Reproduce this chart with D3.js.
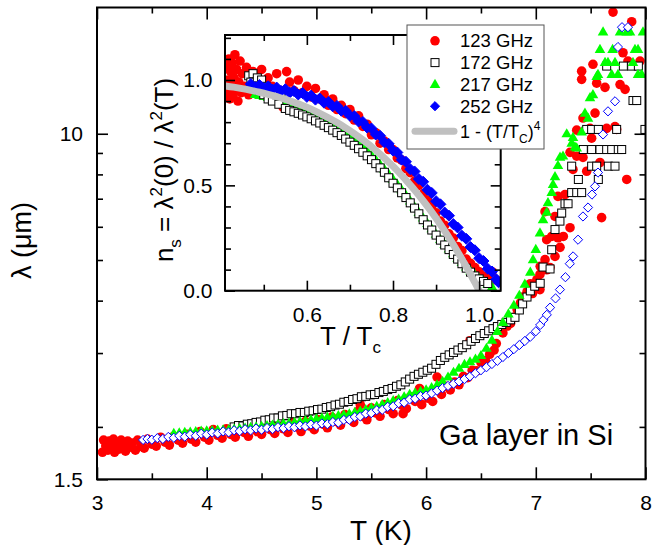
<!DOCTYPE html>
<html><head><meta charset="utf-8">
<script src="https://cdn.jsdelivr.net/npm/d3@7"></script>
<style>body{margin:0;background:#fff}svg{display:block}</style>
</head><body><svg id="c" width="664" height="545"></svg>
<script>
// ---------- labels & ticks ----------
const seriesNames = ["123 GHz","172 GHz","217 GHz","252 GHz"];
const xTicksMain = [3,4,5,6,7,8];
const xMinorMain = [3.5,4.5,5.5,6.5,7.5];
const yLabelTicksMain = [1.5,10];
const yMinorMain = [2,3,4,5,6,7,8,9];
const xTicksInset = [0.6,0.8,1.0];
const xMinorInset = [0.5,0.7,0.9];
const yTicksInset = [0.0,0.5,1.0];
const yMinorInset = [0.1,0.2,0.3,0.4,0.6,0.7,0.8,0.9,1.1,1.2];

// ---------- main panel: [T (K), lambda (um)] ----------
const main123 = [[3.05,1.74],[3.06,1.86],[3.08,1.80],[3.10,1.76],[3.11,1.85],[3.13,1.79],[3.15,1.87],[3.16,1.74],[3.18,1.82],[3.20,1.77],[3.22,1.86],[3.24,1.80],[3.26,1.75],[3.28,1.85],[3.30,1.79],[3.32,1.83],[3.35,1.76],[3.37,1.86],[3.40,1.80],[3.43,1.78],[3.46,1.87],[3.50,1.82],[3.54,1.80],[3.58,1.89],[3.62,1.84],[3.66,1.81],[3.70,1.90],[3.74,1.86],[3.78,1.83],[3.82,1.92],[3.86,1.87],[3.90,1.84],[3.94,1.95],[3.98,1.89],[4.02,1.86],[4.06,1.97],[4.10,1.91],[4.14,1.88],[4.18,1.98],[4.22,1.92],[4.26,1.89],[4.30,2.00],[4.34,1.94],[4.38,1.90],[4.42,2.01],[4.46,1.95],[4.50,1.92],[4.54,2.02],[4.58,1.97],[4.62,1.93],[4.66,2.03],[4.70,1.98],[4.74,1.94],[4.78,2.05],[4.82,2.00],[4.86,1.95],[4.90,2.06],[4.94,2.01],[4.98,1.97],[5.02,2.08],[5.06,2.03],[5.10,1.99],[5.14,2.11],[5.18,2.06],[5.22,2.02],[5.26,2.14],[5.30,2.09],[5.34,2.05],[5.38,2.18],[5.40,2.26],[5.42,2.12],[5.46,2.08],[5.50,2.22],[5.54,2.16],[5.58,2.12],[5.62,2.26],[5.66,2.20],[5.70,2.15],[5.74,2.31],[5.78,2.25],[5.79,2.15],[5.82,2.21],[5.86,2.36],[5.90,2.30],[5.94,2.47],[5.96,2.26],[5.98,2.40],[6.02,2.34],[6.06,2.30],[6.10,2.63],[6.11,2.45],[6.14,2.39],[6.18,2.50],[6.22,2.45],[6.26,2.56],[6.30,2.52],[6.34,2.64],[6.38,2.62],[6.40,3.21],[6.42,2.73],[6.46,2.72],[6.50,2.85],[6.54,2.88],[6.58,2.98],[6.62,3.05],[6.64,3.16],[6.70,3.35],[6.74,3.48],[6.77,3.53],[6.80,3.65],[6.83,3.81],[6.86,3.95],[6.88,4.08],[6.92,4.20],[6.95,4.39],[6.97,4.16],[7.01,4.49],[7.04,4.83],[7.10,4.74],[7.038,4.25],[7.038,4.62],[7.084,5.01],[7.129,4.80],[7.175,5.10],[7.202,5.65],[7.084,6.52],[7.175,6.35],[7.099,5.59],[7.145,5.69],[7.251,5.69],[7.221,5.36],[7.312,5.97],[7.202,7.09],[7.266,7.16],[7.339,8.22],[7.585,8.54],[7.829,7.78],[7.60,6.31],[7.464,8.14],[7.373,8.84],[7.43,8.78],[7.312,9.03],[7.509,9.76],[7.494,10.3],[7.43,10.9],[7.373,10.2],[7.646,10.3],[7.722,10.4],[7.737,10.24],[7.54,11.2],[7.555,13.2],[7.631,12.9],[7.768,13.1],[7.814,12.76],[7.418,13.48],[7.418,14.1],[7.521,14.64],[7.795,15.6],[7.84,14.9],[7.95,14.9],[7.704,19.5],[7.874,18.5]];

const main172 = [[4.25,2.00],[4.29,2.015],[4.33,2.01],[4.37,2.03],[4.41,2.035],[4.45,2.05],[4.49,2.055],[4.53,2.075],[4.57,2.08],[4.61,2.10],[4.65,2.10],[4.69,2.125],[4.73,2.13],[4.77,2.15],[4.81,2.15],[4.85,2.165],[4.89,2.165],[4.93,2.18],[4.97,2.185],[5.01,2.20],[5.05,2.205],[5.09,2.225],[5.13,2.235],[5.17,2.255],[5.21,2.265],[5.25,2.29],[5.29,2.30],[5.33,2.325],[5.37,2.335],[5.41,2.36],[5.45,2.365],[5.49,2.385],[5.53,2.39],[5.57,2.415],[5.61,2.43],[5.65,2.455],[5.69,2.47],[5.73,2.50],[5.77,2.52],[5.81,2.56],[5.85,2.60],[5.89,2.64],[5.93,2.67],[5.97,2.70],[6.01,2.73],[6.05,2.76],[6.09,2.82],[6.13,2.88],[6.17,2.93],[6.21,2.97],[6.25,3.01],[6.29,3.05],[6.33,3.09],[6.37,3.14],[6.41,3.20],[6.45,3.25],[6.49,3.30],[6.53,3.34],[6.57,3.39],[6.61,3.43],[6.65,3.47],[6.69,3.51],[6.73,3.55],[6.77,3.60],[6.81,3.65],[6.85,3.80],[6.88,3.93],[6.92,4.08],[6.95,4.22],[6.99,4.33],[7.04,4.40],[7.066,4.81],[7.13,4.76],[7.145,5.29],[7.175,5.91],[7.22,6.19],[7.236,6.47],[7.266,6.81],[7.294,6.81],[7.327,7.24],[7.373,7.24],[7.418,7.24],[7.388,7.78],[7.327,8.37],[7.509,8.37],[7.555,8.37],[7.57,7.78],[7.661,8.37],[7.722,8.37],[7.433,9.17],[7.509,9.17],[7.585,9.17],[7.646,9.17],[7.692,9.17],[7.752,9.17],[7.783,9.17],[7.464,10.24],[7.509,10.24],[7.57,10.24],[7.737,10.24],[7.995,10.24],[7.886,12.0],[7.92,12.0],[7.646,14.5],[7.798,14.5],[7.874,14.5],[7.935,14.5]];

const main217 = [[3.70,1.930],[3.75,1.935],[3.80,1.940],[3.85,1.945],[3.90,1.950],[3.95,1.955],[4.00,1.958],[4.05,1.961],[4.10,1.964],[4.15,1.967],[4.20,1.970],[4.25,1.976],[4.30,1.982],[4.35,1.988],[4.40,1.994],[4.45,2.000],[4.50,2.007],[4.55,2.014],[4.60,2.021],[4.65,2.028],[4.70,2.036],[4.75,2.043],[4.80,2.050],[4.85,2.060],[4.90,2.070],[4.95,2.080],[5.00,2.090],[5.05,2.100],[5.10,2.110],[5.15,2.120],[5.20,2.128],[5.25,2.138],[5.30,2.150],[5.35,2.165],[5.40,2.180],[5.45,2.200],[5.50,2.220],[5.55,2.240],[5.60,2.260],[5.65,2.285],[5.70,2.310],[5.75,2.330],[5.80,2.360],[5.85,2.390],[5.90,2.410],[5.95,2.430],[6.00,2.450],[6.05,2.480],[6.10,2.520],[6.15,2.570],[6.20,2.630],[6.25,2.700],[6.30,2.760],[6.35,2.820],[6.40,2.860],[6.45,2.900],[6.50,2.960],[6.55,3.080],[6.60,3.220],[6.65,3.380],[6.70,3.550],[6.75,3.720],[6.80,3.900],[6.85,4.120],[6.90,4.380],[6.95,4.680],[6.975,5.01],[7.00,5.30],[7.038,5.80],[7.066,6.24],[7.10,6.50],[7.111,6.85],[7.145,7.25],[7.157,7.57],[7.175,7.90],[7.202,8.40],[7.221,8.80],[7.248,8.85],[7.282,10.0],[7.327,9.5],[7.339,9.8],[7.357,9.3],[7.373,9.25],[7.418,10.1],[7.448,11.2],[7.476,10.9],[7.494,12.2],[7.521,12.4],[7.555,13.7],[7.567,13.86],[7.585,15.9],[7.613,17.5],[7.631,14.8],[7.658,14.8],[7.692,13.86],[7.70,15.9],[7.722,14.8],[7.749,13.86],[7.768,17.5],[7.829,17.5],[7.859,17.5],[7.886,14.8],[7.904,15.9],[7.932,15.9],[7.932,13.86],[7.965,13.86],[7.977,17.5]];

const main252 = [[3.42,1.862],[3.46,1.872],[3.50,1.864],[3.55,1.880],[3.60,1.872],[3.65,1.893],[3.70,1.884],[3.75,1.904],[3.80,1.895],[3.85,1.916],[3.90,1.905],[3.95,1.927],[4.00,1.917],[4.05,1.939],[4.10,1.929],[4.15,1.951],[4.20,1.941],[4.25,1.963],[4.30,1.953],[4.35,1.974],[4.40,1.962],[4.45,1.982],[4.50,1.969],[4.55,1.988],[4.60,1.976],[4.65,1.997],[4.70,1.986],[4.75,2.007],[4.80,1.996],[4.85,2.016],[4.90,2.005],[4.95,2.026],[5.00,2.014],[5.05,2.038],[5.10,2.030],[5.15,2.054],[5.20,2.047],[5.25,2.078],[5.30,2.080],[5.35,2.112],[5.40,2.118],[5.45,2.151],[5.50,2.157],[5.55,2.192],[5.60,2.196],[5.65,2.233],[5.70,2.240],[5.75,2.278],[5.80,2.285],[5.85,2.326],[5.90,2.334],[5.95,2.368],[6.00,2.375],[6.05,2.405],[6.10,2.440],[6.15,2.475],[6.20,2.505],[6.25,2.535],[6.30,2.567],[6.35,2.600],[6.40,2.640],[6.45,2.685],[6.50,2.730],[6.55,2.775],[6.60,2.825],[6.65,2.875],[6.70,2.935],[6.75,3.000],[6.80,3.065],[6.85,3.135],[6.90,3.205],[6.95,3.281],[7.00,3.38],[7.04,3.50],[7.07,3.60],[7.10,3.70],[7.13,3.85],[7.18,4.05],[7.22,4.25],[7.27,4.55],[7.31,4.90],[7.34,5.10],[7.385,5.59],[7.43,6.35],[7.476,6.67],[7.512,7.16],[7.54,7.49],[7.567,8.08],[7.613,9.96],[7.658,11.31],[7.722,11.95],[7.749,16.1],[7.786,17.95],[7.84,17.95]];

// ---------- inset: [T/Tc, ns] ----------
const inset123 = [[0.413,1.06],[0.415,0.94],[0.417,1.00],[0.419,1.10],[0.421,0.91],[0.423,1.04],[0.425,0.97],[0.427,1.08],[0.429,0.93],[0.431,1.01],[0.433,1.12],[0.435,0.95],[0.437,1.05],[0.44,0.90],[0.442,0.99],[0.445,1.09],[0.448,0.94],[0.45,1.03],[0.455,0.97],[0.46,1.06],[0.465,0.93],[0.47,1.01],[0.475,1.04],[0.48,0.96],[0.485,1.02],[0.49,0.99],[0.495,1.05],[0.50,0.95],[0.51,1.01],[0.52,0.97],[0.53,1.03],[0.54,0.95],[0.545,0.87],[0.553,1.04],[0.56,0.99],[0.57,0.95],[0.58,1.00],[0.59,0.94],[0.60,0.97],[0.61,0.92],[0.62,0.96],[0.63,0.91],[0.64,0.93],[0.65,0.88],[0.66,0.91],[0.67,0.86],[0.68,0.88],[0.69,0.84],[0.70,0.86],[0.71,0.81],[0.72,0.83],[0.73,0.78],[0.74,0.79],[0.75,0.74],[0.76,0.75],[0.77,0.70],[0.78,0.71],[0.79,0.67],[0.80,0.67],[0.81,0.63],[0.82,0.62],[0.83,0.58],[0.84,0.56],[0.85,0.52],[0.86,0.50],[0.87,0.46],[0.88,0.43],[0.89,0.40],[0.90,0.37],[0.91,0.33],[0.92,0.31],[0.93,0.27],[0.94,0.25],[0.95,0.21],[0.96,0.19],[0.97,0.15],[0.98,0.13],[0.99,0.11],[1.00,0.09],[1.01,0.07],[1.02,0.06],[1.03,0.09],[1.04,0.05]];

const inset172 = [[0.465,1.02],[0.47,0.99],[0.475,1.03],[0.48,0.97],[0.485,1.01],[0.49,0.95],[0.495,1.00],[0.50,0.93],[0.505,0.97],[0.51,0.91],[0.515,0.95],[0.52,0.90],[0.53,0.93],[0.535,0.885],[0.54,0.94],[0.55,0.865],[0.56,0.856],[0.57,0.849],[0.58,0.842],[0.59,0.834],[0.60,0.825],[0.61,0.816],[0.62,0.806],[0.63,0.796],[0.64,0.785],[0.65,0.774],[0.66,0.762],[0.67,0.75],[0.68,0.737],[0.69,0.72],[0.70,0.705],[0.71,0.69],[0.72,0.674],[0.73,0.657],[0.74,0.64],[0.75,0.622],[0.76,0.603],[0.77,0.583],[0.78,0.562],[0.79,0.536],[0.80,0.51],[0.81,0.488],[0.82,0.465],[0.83,0.442],[0.84,0.417],[0.85,0.392],[0.86,0.365],[0.87,0.337],[0.88,0.312],[0.89,0.288],[0.90,0.264],[0.91,0.24],[0.92,0.217],[0.93,0.195],[0.94,0.172],[0.95,0.15],[0.96,0.128],[0.97,0.107],[0.98,0.088],[0.99,0.07],[1.00,0.056],[1.01,0.044],[1.02,0.034]];

const inset217 = [[0.48,0.932],[0.49,0.927],[0.50,0.922],[0.51,0.917],[0.52,0.912],[0.53,0.906],[0.54,0.900],[0.55,0.893],[0.56,0.887],[0.57,0.879],[0.58,0.872],[0.59,0.864],[0.60,0.855],[0.61,0.846],[0.62,0.837],[0.63,0.827],[0.64,0.817],[0.65,0.806],[0.66,0.795],[0.67,0.783],[0.68,0.770],[0.69,0.757],[0.70,0.743],[0.71,0.725],[0.72,0.706],[0.73,0.686],[0.74,0.665],[0.75,0.644],[0.76,0.622],[0.77,0.600],[0.78,0.577],[0.79,0.553],[0.80,0.530],[0.81,0.505],[0.82,0.480],[0.83,0.453],[0.84,0.426],[0.85,0.398],[0.86,0.372],[0.87,0.345],[0.88,0.32],[0.89,0.294],[0.90,0.268],[0.91,0.243],[0.92,0.22],[0.93,0.198],[0.94,0.176],[0.95,0.155],[0.96,0.134],[0.97,0.113],[0.98,0.094],[0.99,0.076],[1.00,0.06],[1.01,0.045],[1.02,0.03],[1.03,0.018]];

const inset252 = [[0.47,0.981],[0.48,0.966],[0.49,0.976],[0.50,0.961],[0.51,0.970],[0.52,0.955],[0.53,0.964],[0.54,0.948],[0.55,0.956],[0.56,0.940],[0.57,0.948],[0.58,0.931],[0.59,0.938],[0.60,0.920],[0.61,0.926],[0.62,0.907],[0.63,0.912],[0.64,0.892],[0.65,0.896],[0.66,0.875],[0.67,0.877],[0.68,0.854],[0.69,0.854],[0.70,0.830],[0.71,0.829],[0.72,0.803],[0.73,0.801],[0.74,0.774],[0.75,0.770],[0.76,0.741],[0.77,0.735],[0.78,0.704],[0.79,0.697],[0.80,0.665],[0.81,0.656],[0.82,0.622],[0.83,0.612],[0.84,0.577],[0.85,0.566],[0.86,0.530],[0.87,0.517],[0.88,0.479],[0.89,0.464],[0.90,0.425],[0.91,0.410],[0.92,0.371],[0.93,0.356],[0.94,0.316],[0.95,0.300],[0.96,0.261],[0.97,0.246],[0.98,0.207],[0.99,0.192],[1.00,0.154],[1.01,0.141],[1.02,0.104],[1.03,0.091],[1.04,0.054],[1.045,0.04]];

const fitCurve = [[0.41,0.972],[0.43,0.966],[0.45,0.959],[0.47,0.951],[0.49,0.942],[0.51,0.932],[0.53,0.921],[0.55,0.908],[0.57,0.894],[0.59,0.879],[0.61,0.862],[0.63,0.842],[0.65,0.821],[0.67,0.798],[0.69,0.773],[0.71,0.746],[0.73,0.716],[0.75,0.684],[0.77,0.648],[0.79,0.610],[0.81,0.570],[0.83,0.525],[0.85,0.478],[0.87,0.427],[0.89,0.373],[0.91,0.314],[0.93,0.252],[0.95,0.185],[0.97,0.115],[0.99,0.039],[1.00,0.0]];

// ---------- drawing ----------
const FONT = "'Liberation Sans', Arial, Helvetica, sans-serif";
const svg = d3.select("#c").attr("font-family", FONT);
svg.append("rect").attr("width",664).attr("height",545).attr("fill","#fff");

const x = d3.scaleLinear().domain([3,8]).range([97,645.5]);
const y = d3.scaleLog().domain([1.5,20]).range([479.3,7.5]);
const ix = d3.scaleLinear().domain([0.41,1.05]).range([225,500.7]);
const iy = d3.scaleLinear().domain([0,1.2136]).range([290.7,35]);

const RED="#ff0000", GREEN="#00ff00", BLUE="#0000ff";
const triPath = "M0,-5.6L5.3,3.6L-5.3,3.6Z";
const diaPath = r => `M0,${-r}L${r},0L0,${r}L${-r},0Z`;

const defs = svg.append("defs");
defs.append("clipPath").attr("id","clipMain").append("rect")
  .attr("x",x.range()[0]).attr("y",y.range()[1]).attr("width",x.range()[1]-x.range()[0]).attr("height",y.range()[0]-y.range()[1]);
defs.append("clipPath").attr("id","clipInset").append("rect")
  .attr("x",ix.range()[0]).attr("y",iy.range()[1]).attr("width",ix.range()[1]-ix.range()[0]).attr("height",iy.range()[0]-iy.range()[1]);

function drawCircles(g,data,sx,sy){
  g.append("g").selectAll("circle").data(data).join("circle")
    .attr("cx",d=>sx(d[0])).attr("cy",d=>sy(d[1])).attr("r",4.8).attr("fill",RED);
}
function drawSquares(g,data,sx,sy){
  g.append("g").selectAll("rect").data(data).join("rect")
    .attr("x",d=>sx(d[0])-4).attr("y",d=>sy(d[1])-4).attr("width",8).attr("height",8)
    .attr("fill","#fff").attr("stroke","#000").attr("stroke-width",1);
}
function drawTriangles(g,data,sx,sy){
  g.append("g").selectAll("path").data(data).join("path")
    .attr("d",triPath).attr("transform",d=>`translate(${sx(d[0])},${sy(d[1])})`).attr("fill",GREEN);
}
function drawDiamonds(g,data,sx,sy,filled,r){
  g.append("g").selectAll("path").data(data).join("path")
    .attr("d",diaPath(r)).attr("transform",d=>`translate(${sx(d[0])},${sy(d[1])})`)
    .attr("fill",filled?BLUE:"#fff").attr("stroke",BLUE).attr("stroke-width",1);
}

// main data
const gm = svg.append("g").attr("clip-path","url(#clipMain)");
drawCircles(gm,main123,x,y);
drawSquares(gm,main172,x,y);
drawTriangles(gm,main217,x,y);
drawDiamonds(gm,main252,x,y,false,4.6);

function styleAxis(a,fs){
  a.select(".domain").remove();
  a.attr("font-family",FONT).attr("font-size",fs);
  a.selectAll("line").attr("stroke","#000").attr("stroke-width",1.6);
  a.selectAll("text").attr("fill","#000");
}
function addAxis(gen,tr,vals,size,fmt,pad,fs){
  const a = svg.append("g").attr("transform",tr)
    .call(gen.tickValues(vals).tickSizeInner(size).tickSizeOuter(0).tickPadding(pad).tickFormat(fmt));
  styleAxis(a,fs); return a;
}
const none = () => "";
// main axes
addAxis(d3.axisBottom(x),`translate(0,${y.range()[0]})`,xTicksMain,-12,d3.format("d"),15.5,21);
addAxis(d3.axisBottom(x),`translate(0,${y.range()[0]})`,xMinorMain,-6,none,3,21);
addAxis(d3.axisTop(x),`translate(0,${y.range()[1]})`,xTicksMain,-12,none,3,21);
addAxis(d3.axisTop(x),`translate(0,${y.range()[1]})`,xMinorMain,-6,none,3,21);
addAxis(d3.axisLeft(y),`translate(${x.range()[0]},0)`,yLabelTicksMain,-11,d=>String(d),14,21);
addAxis(d3.axisLeft(y),`translate(${x.range()[0]},0)`,yMinorMain,-6,none,3,21);
addAxis(d3.axisRight(y),`translate(${x.range()[1]},0)`,[10],-11,none,3,21);
addAxis(d3.axisRight(y),`translate(${x.range()[1]},0)`,yMinorMain,-6,none,3,21);
svg.append("rect").attr("x",x.range()[0]).attr("y",y.range()[1])
  .attr("width",x.range()[1]-x.range()[0]).attr("height",y.range()[0]-y.range()[1])
  .attr("fill","none").attr("stroke","#000").attr("stroke-width",2);

// inset
svg.append("rect").attr("x",ix.range()[0]).attr("y",iy.range()[1])
  .attr("width",ix.range()[1]-ix.range()[0]).attr("height",iy.range()[0]-iy.range()[1]).attr("fill","#fff");
const gi = svg.append("g").attr("clip-path","url(#clipInset)");
drawCircles(gi,inset123,ix,iy);
drawTriangles(gi,inset217,ix,iy);
drawSquares(gi,inset172,ix,iy);
drawDiamonds(gi,inset252,ix,iy,true,5.5);
gi.append("path").datum(fitCurve)
  .attr("d",d3.line().x(d=>ix(d[0])).y(d=>iy(d[1])).curve(d3.curveMonotoneX))
  .attr("fill","none").attr("stroke","#c0c0c0").attr("stroke-width",7).attr("stroke-linecap","round");

addAxis(d3.axisBottom(ix),`translate(0,${iy.range()[0]})`,xTicksInset,-10,d3.format(".1f"),16,21);
addAxis(d3.axisBottom(ix),`translate(0,${iy.range()[0]})`,xMinorInset,-6,none,3,21);
addAxis(d3.axisTop(ix),`translate(0,${iy.range()[1]})`,xTicksInset,-10,none,3,21);
addAxis(d3.axisTop(ix),`translate(0,${iy.range()[1]})`,xMinorInset,-6,none,3,21);
addAxis(d3.axisLeft(iy),`translate(${ix.range()[0]},0)`,yTicksInset,-10,d3.format(".1f"),12.5,21);
addAxis(d3.axisLeft(iy),`translate(${ix.range()[0]},0)`,yMinorInset,-6,none,3,21);
addAxis(d3.axisRight(iy),`translate(${ix.range()[1]},0)`,yTicksInset,-10,none,3,21);
addAxis(d3.axisRight(iy),`translate(${ix.range()[1]},0)`,yMinorInset,-6,none,3,21);
svg.append("rect").attr("x",ix.range()[0]).attr("y",iy.range()[1])
  .attr("width",ix.range()[1]-ix.range()[0]).attr("height",iy.range()[0]-iy.range()[1])
  .attr("fill","none").attr("stroke","#000").attr("stroke-width",2);

// legend
const lg = svg.append("g");
lg.append("rect").attr("x",407).attr("y",25).attr("width",137).attr("height",124)
  .attr("fill","#fff").attr("stroke","#555").attr("stroke-width",1);
const rowY = [40.8,62.6,84.4,106.2];
const lx = 435, tx = 460;
lg.append("circle").attr("cx",lx).attr("cy",rowY[0]).attr("r",4.8).attr("fill",RED);
lg.append("rect").attr("x",lx-4).attr("y",rowY[1]-4).attr("width",8).attr("height",8).attr("fill","#fff").attr("stroke","#000");
lg.append("path").attr("d",triPath).attr("transform",`translate(${lx},${rowY[2]})`).attr("fill",GREEN);
lg.append("path").attr("d",diaPath(4.6)).attr("transform",`translate(${lx},${rowY[3]})`).attr("fill",BLUE).attr("stroke",BLUE);
seriesNames.forEach((s,i)=>{
  lg.append("text").attr("x",tx).attr("y",rowY[i]+6.5).attr("font-size",18.5).text(s);
});
lg.append("line").attr("x1",415).attr("x2",454).attr("y1",131.3).attr("y2",131.3)
  .attr("stroke","#c0c0c0").attr("stroke-width",7).attr("stroke-linecap","round");
const ft = lg.append("text").attr("x",tx).attr("y",137.8).attr("font-size",18);
ft.append("tspan").text("1 - (T/T");
ft.append("tspan").attr("font-size",12).attr("dy",5).text("C");
ft.append("tspan").attr("dy",-5).text(")");
ft.append("tspan").attr("font-size",12).attr("dy",-8).text("4");

// axis titles
svg.append("text").attr("x",350).attr("y",540).attr("font-size",28).text("T (K)");
svg.append("text").attr("transform","translate(31,240.5) rotate(-90)").attr("text-anchor","middle")
  .attr("font-size",27).text("λ (μm)");
const itx = svg.append("text").attr("x",320).attr("y",345).attr("font-size",26);
itx.append("tspan").text("T / T");
itx.append("tspan").attr("font-size",17).attr("dy",8).text("c");
const ity = svg.append("text").attr("transform","translate(173,170) rotate(-90)").attr("text-anchor","middle").attr("font-size",26);
ity.append("tspan").text("n");
ity.append("tspan").attr("font-size",17).attr("dy",8).text("s");
ity.append("tspan").attr("dy",-8).text(" = λ");
ity.append("tspan").attr("font-size",17).attr("dy",-11).text("2");
ity.append("tspan").attr("dy",11).text("(0) / λ");
ity.append("tspan").attr("font-size",17).attr("dy",-11).text("2");
ity.append("tspan").attr("dy",11).text("(T)");

svg.append("text").attr("x",439).attr("y",445).attr("font-size",29).text("Ga layer in Si");
</script></body></html>
